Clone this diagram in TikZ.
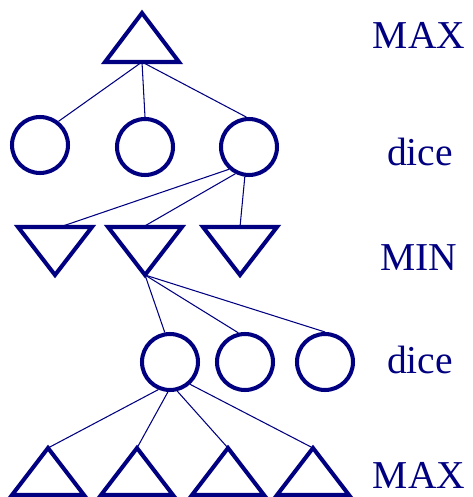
\documentclass[tikz,border=0pt]{standalone}
\usepackage{fontspec}
\setmainfont{Liberation Serif}
\usetikzlibrary{positioning, calc}
\definecolor{TreeNavy}{HTML}{000080}
\tikzset{
    % Node shapes of the game tree
    chance/.style={
        circle,
        draw=TreeNavy,
        line width=2.3pt,
        minimum size=1.12cm,
        inner sep=0pt
    },
    player/.style={
        draw=TreeNavy,
        line width=2.3pt,
        line join=miter
    },
    branch/.style={
        draw=TreeNavy,
        line width=0.6pt
    },
    level label/.style={
        text=TreeNavy,
        anchor=base,
        inner sep=0pt,
        font=\fontsize{22.5}{27}\selectfont
    }
}
\begin{document}
\begin{tikzpicture}[x=0.02cm, y=-0.02cm]
    \useasboundingbox (0,0) rectangle (473,497);

    % MAX root
    \coordinate (root) at (142,13);
    \draw[player] (root) -- ++(37,49) -- ++(-74,0) -- cycle;
    \coordinate (rootbase) at (142,62);

    % first dice row
    \node[chance] (dA) at (40,145) {};
    \node[chance] (dB) at (145,147) {};
    \node[chance] (dC) at (249,147) {};

    % MIN row (pointing down)
    \foreach \n/\x in {1/55, 2/145, 3/240} {
        \coordinate (min\n) at (\x,275);
        \draw[player] (min\n) -- ++(-37,-48) -- ++(74,0) -- cycle;
    }
    \coordinate (min1top) at (60,227);
    \coordinate (min2top) at (143,227);
    \coordinate (min3top) at (240,227);

    % second dice row
    \node[chance] (eA) at (170,362) {};
    \node[chance] (eB) at (245,362) {};
    \node[chance] (eC) at (325,362) {};

    % MAX leaves
    \foreach \n/\x in {1/48, 2/137, 3/228, 4/313} {
        \coordinate (leaf\n) at (\x,448);
        \draw[player] (leaf\n) -- ++(36,47) -- ++(-72,0) -- cycle;
    }

    % branches
    \draw[branch] (rootbase) -- (dA.52);
    \draw[branch] (rootbase) -- (dB.north);
    \draw[branch] (rootbase) -- (dC.95);
    \foreach \n/\a in {1/228, 2/243, 3/262} {
        \draw[branch] (dC.\a) -- (min\n top);
    }
    \draw[branch] (min2) -- (eA.100);
    \draw[branch] (min2) -- (eB.103);
    \draw[branch] (min2) -- (eC.north);
    \foreach \n/\a in {1/247, 2/266, 3/284, 4/312} {
        \draw[branch] (eA.\a) -- (leaf\n);
    }

    % level labels
    \node[level label] (lmax) at (419,49) {MAX};
    \node[level label] (ldice) at (420,165) {dice};
    \node[level label] (lmin) at (419,270) {MIN};
    \node[level label] (ldice2) at (420,373) {dice};
    \node[level label] (lmax2) at (419,488) {MAX};
\end{tikzpicture}
\end{document}
